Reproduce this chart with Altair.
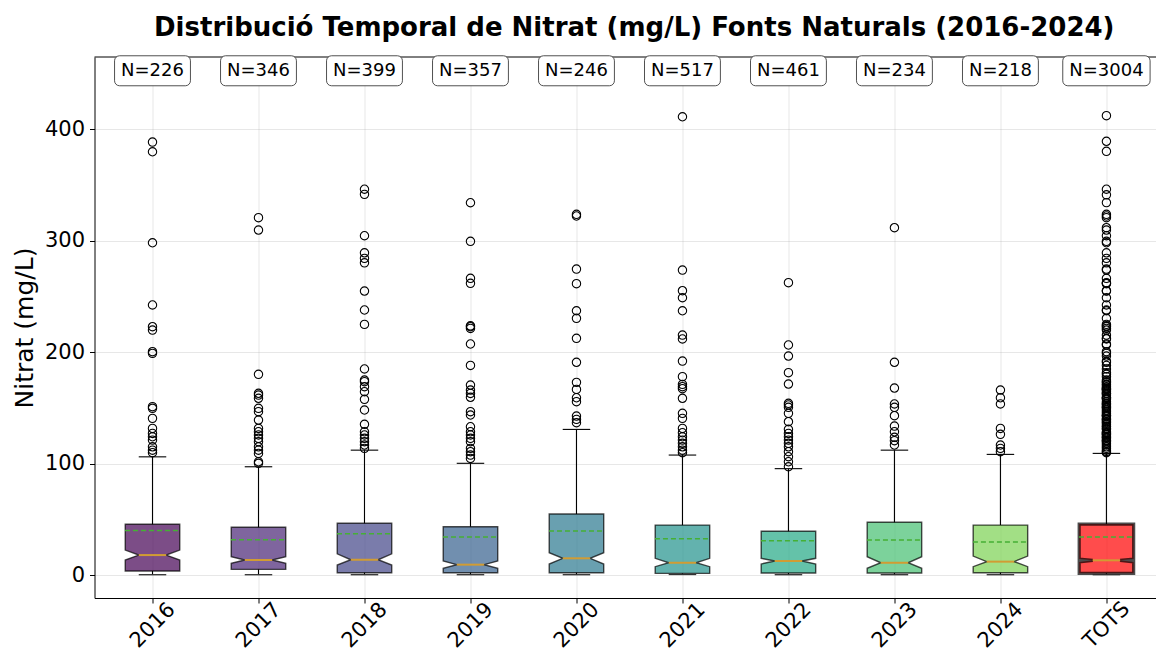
import altair as alt
import pandas as pd

# ---------------- data ----------------
cats = ["2016", "2017", "2018", "2019", "2020", "2021", "2022", "2023", "2024", "TOTS"]
counts = [226, 346, 399, 357, 246, 517, 461, 234, 218, 3004]
q1 = [3.6, 5.1, 2.1, 2.1, 2.1, 1.5, 1.8, 1.8, 2.1, 1.5]
medians = [17.9, 13.5, 13.7, 9.3, 15.0, 11.0, 12.6, 11.0, 12.0, 13.2]
q3 = [45.5, 42.8, 46.4, 43.3, 54.7, 44.8, 39.2, 47.3, 44.8, 45.7]
notch_lo = [13.5, 10.5, 9.0, 6.0, 9.9, 7.5, 9.9, 6.0, 7.5, 11.7]
notch_hi = [22.4, 16.4, 19.0, 12.6, 20.0, 15.0, 15.0, 16.4, 17.0, 14.3]
means = [40.0, 31.7, 37.0, 34.0, 39.5, 32.6, 30.8, 31.4, 29.6, 34.0]
whis_lo = [0.3, 0.3, 0.3, 0.3, 0.3, 0.5, 0.3, 0.3, 0.3, 0.3]
whis_hi = [106.0, 97.1, 112.0, 100.2, 130.6, 107.6, 95.4, 112.0, 108.2, 109.1]

out_2016 = [388.3, 379.6, 298, 242.2, 222.7, 219.7, 200.3, 198.8, 151, 149.5, 140.5, 131.5,
            127, 124, 121, 115, 112, 109.7]
out_2017 = [320.5, 309.4, 180, 163, 161.4, 158.5, 149.5, 146.5, 139, 131.5, 128.5, 125.6,
            122.6, 119.6, 115, 112, 109, 101.6, 100.2]
out_2018 = [346, 341.4, 304.3, 289, 284, 280, 254.7, 237.7, 224.8, 184.8, 174.9, 173.4,
            168.9, 164.4, 157.6, 148, 135.2, 128.5, 125.6, 122.6, 119.6, 116.6, 113.6]
out_2019 = [333.9, 299.3, 266.1, 261.6, 223.5, 222.7, 221.2, 207.2, 188, 170.4, 165.9, 162.9,
            159.4, 146.5, 143.5, 133, 128.5, 125.6, 122.6, 119.6, 113.6, 110.6, 107.6, 104.6]
out_2020 = [323.5, 322, 274.4, 261.3, 237, 230.2, 212.3, 190.8, 172.8, 166.5, 159, 155.5,
            142.6, 139.6, 136.6]
out_2021 = [411, 273.5, 255, 248.7, 237, 215.2, 211.7, 191.9, 177.9, 171, 168.9, 167.1,
            158.5, 145, 140.5, 131.5, 127.6, 124, 121, 118.1, 115, 112, 109.7]
out_2022 = [262.2, 206.3, 196.4, 181.5, 171.3, 154, 152.5, 150.4, 145, 137.5, 130.7, 127,
            124, 121, 118.1, 115, 110.6, 106.1, 101.6, 97.1]
out_2023 = [311.5, 190.8, 167.7, 153.4, 150.4, 142.9, 133.6, 128.5, 123.5, 120.5, 116.6]
out_2024 = [165.9, 159, 153.4, 131.5, 126.2, 116.6, 113.6, 110.6]
out_tots = [412, 389, 380, 346, 341, 334, 323.5, 322, 320.5, 311.5, 309.4, 304.3, 299.3, 298,
            289, 284, 280, 274.4, 273.5, 266.1, 262.2, 261.6, 261.3, 255, 254.7, 248.7, 242.2,
            237.7, 237, 230.2, 224.8, 223.5, 222.7, 221.2, 219.7, 215.2, 212.3, 211.7, 207.2,
            206.3, 200.3, 198.8, 196.4, 191.9, 190.8, 188, 184.8, 181.5, 180, 177.9, 174.9,
            173.4, 172.8, 171.3, 170.4, 168.9, 167.7, 167.1, 166.5, 165.9, 164.4, 163, 162.9,
            161.4, 159.4, 159, 158.5, 157.6, 155.5, 154, 153.4, 152.5, 151, 150.4, 149.5,
            148, 146.5, 145, 143.5, 142.9, 142.6, 140.5, 139.6, 139, 137.5, 136.6, 135.2,
            133.6, 133, 131.5, 130.7, 128.5, 127.6, 127, 126.2, 125.6, 124, 123.5, 122.6,
            121, 120.5, 119.6, 118.1, 116.6, 115, 113.6, 112, 110.6, 109.7]
outliers = [out_2016, out_2017, out_2018, out_2019, out_2020, out_2021, out_2022, out_2023,
            out_2024, out_tots]

box_colors = ["#440154", "#482475", "#414487", "#355f8d", "#2a788e", "#21918c",
              "#22a884", "#44bf70", "#7ad151", "#ff0000"]

# ---------------- styling constants ----------------
FONT = "DejaVu Sans"
PAD_L, PAD_T, PAD_B = 86.5, 49, 56
W, H = 1148 - PAD_L, 541
PX_PER_UNIT = 107.0
HALF_BOX = 0.257     # half box width in category units
HALF_NOTCH = 0.1285  # half notch width
Y_DOMAIN = [-20.6, 464.6]
X_DOMAIN = [0.5, 0.5 + W / PX_PER_UNIT]
LABEL_Y, LABEL_TOP, LABEL_BOT = 452.3, 465.7, 438.8
LABEL_FS = 18

# ---------------- tables ----------------
pos = list(range(1, len(cats) + 1))
stats = pd.DataFrame({
    "cat": cats, "pos": pos, "n": counts, "q1": q1, "med": medians, "q3": q3,
    "mean": means, "wlo": whis_lo, "whi": whis_hi,
})
stats["label"] = ["N=" + str(c) for c in counts]
stats["lw"] = [(0.748 + 0.838 + 0.636 * len(str(c))) * LABEL_FS + 13 for c in counts]

poly = []
for i, c in enumerate(cats):
    p = pos[i]
    pts = [(q1[i], HALF_BOX), (notch_lo[i], HALF_BOX), (medians[i], HALF_NOTCH),
           (notch_hi[i], HALF_BOX), (q3[i], HALF_BOX)]
    for k, (yv, hw) in enumerate(pts):
        poly.append({"cat": c, "y": yv, "xl": p - hw, "xr": p + hw,
                     "sw": 3.2 if c == "TOTS" else 1.4})
poly = pd.DataFrame(poly)

fl = pd.DataFrame([{"cat": c, "pos": pos[i], "v": v}
                   for i, c in enumerate(cats) for v in outliers[i]])

xs = alt.Scale(domain=X_DOMAIN, nice=False, zero=False)
ys = alt.Scale(domain=Y_DOMAIN, nice=False, zero=False)
label_expr = "[" + ",".join("'" + c + "'" for c in cats) + "][datum.value - 1]"

x_axis = alt.Axis(values=pos, labelExpr=label_expr, title=None, grid=True,
                  labelAngle=-45, labelAlign="center", labelBaseline="middle",
                  labelPadding=22, labelFontSize=21, tickSize=5, labelFlush=False)
y_axis = alt.Axis(values=[0, 100, 200, 300, 400], title="Nitrat (mg/L)", grid=True,
                  labelFontSize=21, tickSize=5, labelPadding=5, titleFontSize=25,
                  titleFontWeight="normal", titleX=-70, titleY=H / 2,
                  titleAlign="center", titleBaseline="middle")

X = alt.X("pos:Q", scale=xs, axis=x_axis)

base = alt.Chart(stats)

boxes = alt.Chart(poly).mark_area(orient="horizontal", fillOpacity=0.7,
                                   stroke="black", strokeOpacity=0.7).encode(
    y=alt.Y("y:Q", scale=ys, axis=y_axis),
    x=alt.X("xl:Q", scale=xs, axis=x_axis),
    x2="xr:Q",
    color=alt.Color("cat:N", scale=alt.Scale(domain=cats, range=box_colors), legend=None),
    strokeWidth=alt.StrokeWidth("sw:Q", scale=None),
    detail="cat:N",
)

wh_up = base.mark_rule(color="black", strokeWidth=1.1).encode(
    x=X, y=alt.Y("q3:Q", scale=ys, axis=y_axis), y2="whi:Q")
wh_lo = base.mark_rule(color="black", strokeWidth=1.1).encode(
    x=X, y=alt.Y("wlo:Q", scale=ys), y2="q1:Q")
cap_hi = base.mark_rule(color="black", strokeWidth=1.1, xOffset=-13.75, x2Offset=13.75).encode(
    x=X, x2="pos:Q", y=alt.Y("whi:Q", scale=ys))
cap_lo = base.mark_rule(color="#333333", strokeWidth=1.3, xOffset=-13.75, x2Offset=13.75).encode(
    x=X, x2="pos:Q", y=alt.Y("wlo:Q", scale=ys))
med_l = base.mark_rule(color="#d19c33", strokeWidth=2, xOffset=-13.75, x2Offset=13.75).encode(
    x=X, x2="pos:Q", y=alt.Y("med:Q", scale=ys))
mean_l = base.mark_rule(color="#45b035", strokeWidth=1.5, strokeDash=[5, 3],
                        xOffset=-27.5, x2Offset=27.5).encode(
    x=X, x2="pos:Q", y=alt.Y("mean:Q", scale=ys))

fliers = alt.Chart(fl).mark_point(shape="circle", filled=False, color="black",
                                  strokeWidth=1.1, size=70, opacity=1).encode(
    x=alt.X("pos:Q", scale=xs), y=alt.Y("v:Q", scale=ys))

top_spine = alt.Chart(alt.Data(values=[{}])).mark_rule(color="black", strokeWidth=1).encode(
    x=alt.value(0), x2=alt.value(W), y=alt.value(0))

lab_box = base.mark_bar(fill="white", stroke="#333333", strokeOpacity=0.85, strokeWidth=1,
                        cornerRadius=5).encode(
    x=X, y=alt.Y("t:Q", scale=ys), y2="b:Q",
    size=alt.Size("lw:Q", scale=None)).transform_calculate(
    t=str(LABEL_TOP), b=str(LABEL_BOT))
lab_txt = base.mark_text(fontSize=LABEL_FS, font=FONT, color="black",
                         baseline="middle", align="center").encode(
    x=X, y=alt.Y("ly:Q", scale=ys), text="label:N").transform_calculate(ly=str(LABEL_Y))

chart = alt.layer(
    boxes, wh_up, wh_lo, cap_hi, cap_lo, med_l, mean_l, fliers, top_spine, lab_box, lab_txt
).properties(
    width=W, height=H,
    background="white",
    title=alt.TitleParams("Distribució Temporal de Nitrat (mg/L) Fonts Naturals (2016-2024)",
                          fontSize=26, fontWeight="bold", font=FONT, anchor="middle",
                          baseline="bottom", offset=20, dy=32, dx=9, color="black"),
    autosize=alt.AutoSizeParams(type="none"),
    padding={"left": PAD_L, "top": PAD_T, "right": 0, "bottom": PAD_B},
).configure_view(stroke=None).configure_axis(
    labelFont=FONT, titleFont=FONT, labelColor="black", titleColor="black",
    domainColor="black", domainWidth=1, tickColor="black", tickWidth=1,
    gridColor="#b0b0b0", gridOpacity=0.3, gridWidth=1,
)

chart.save("out.html", embed_options={"renderer": "svg", "actions": False})
